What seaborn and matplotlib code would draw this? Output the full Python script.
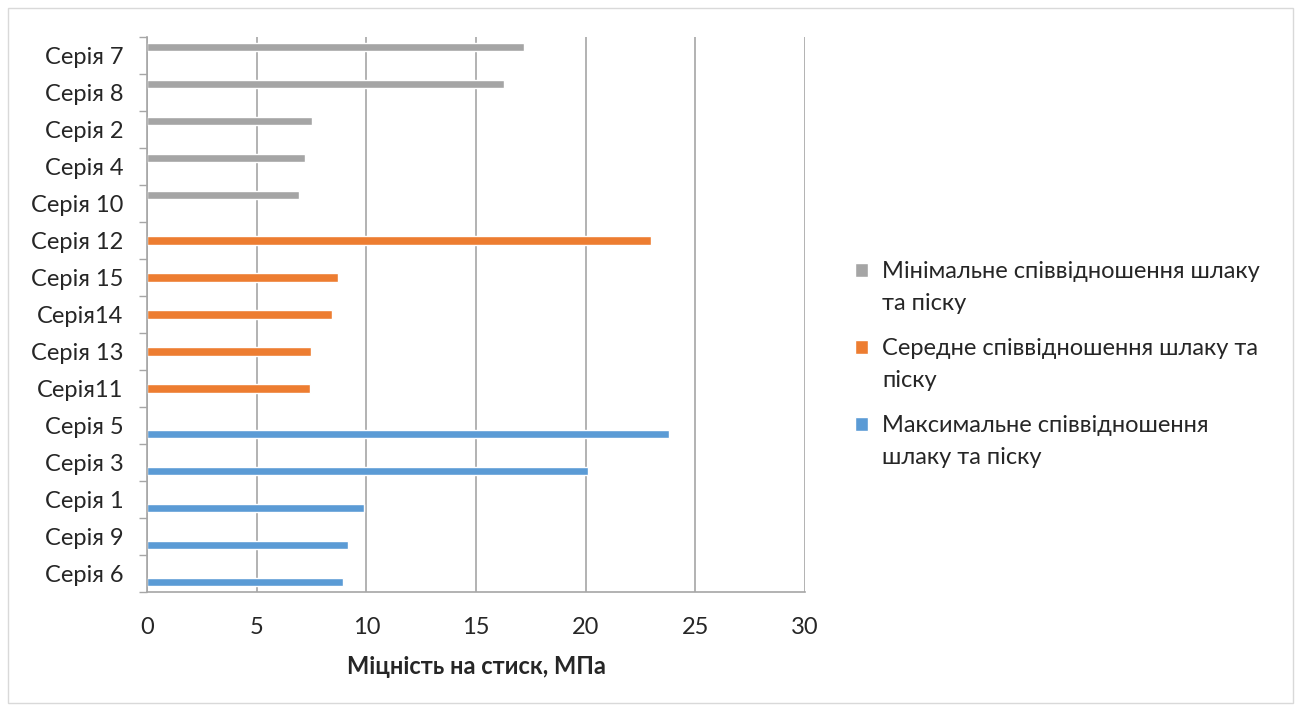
import matplotlib
matplotlib.use("Agg")
import pandas as pd
import seaborn as sns
import matplotlib.pyplot as plt
from matplotlib.patches import Rectangle
from matplotlib.legend_handler import HandlerPatch
from matplotlib.ticker import FixedLocator, NullFormatter

# -- data
categories = ["Серія 7", "Серія 8", "Серія 2", "Серія 4", "Серія 10",
              "Серія 12", "Серія 15", "Серія14", "Серія 13", "Серія11",
              "Серія 5", "Серія 3", "Серія 1", "Серія 9", "Серія 6"]
strength = [17.2, 16.26, 7.51, 7.2, 6.93,
            22.97, 8.73, 8.45, 7.49, 7.43,
            23.78, 20.09, 9.9, 9.17, 8.94]
group_min = "Мінімальне співвідношення шлаку\nта піску"
group_mid = "Середне співвідношення шлаку та\nпіску"
group_max = "Максимальне співвідношення\nшлаку та піску"
groups = [group_min] * 5 + [group_mid] * 5 + [group_max] * 5
group_order = [group_min, group_mid, group_max]
group_colors = ["#A5A5A5", "#ED7D31", "#5B9BD5"]
x_ticks = [0, 5, 10, 15, 20, 25, 30]
x_label = "Міцність на стиск, МПа"

df = pd.DataFrame({"series": categories, "value": strength, "group": groups})

sns.set_style("white")
plt.rcParams["font.family"] = ["Lato", "Noto Sans", "DejaVu Sans"]
fs = 17

fig = plt.figure(figsize=(13.01, 7.11), dpi=100)
ax = fig.add_axes([147 / 1301, 1 - 592 / 711, (805 - 147) / 1301, (592 - 37) / 711])

sns.barplot(data=df, x="value", y="series", hue="group", hue_order=group_order,
            order=categories, palette=group_colors, orient="h", dodge=True,
            width=0.65, saturation=1, errorbar=None, ax=ax)

ax.set_xlim(0, 30)
ax.set_ylim(len(categories) - 0.5, -0.5)
ax.set_xticks(x_ticks)
ax.set_xticklabels([str(t) for t in x_ticks], fontsize=fs)
ax.tick_params(axis="y", which="major", length=0, labelsize=fs, pad=17)
ax.tick_params(axis="x", which="major", length=6, width=1, color="#A6A6A6",
               direction="out", pad=12)
ax.yaxis.set_minor_locator(FixedLocator([i - 0.5 for i in range(len(categories) + 1)]))
ax.yaxis.set_minor_formatter(NullFormatter())
ax.tick_params(axis="y", which="minor", length=6, width=1, color="#A6A6A6",
               direction="out", left=True)

ax.grid(axis="x", color="#A6A6A6", linewidth=1.2)
ax.set_axisbelow(True)
for side in ["top", "right"]:
    ax.spines[side].set_visible(False)
for side in ["left", "bottom"]:
    ax.spines[side].set_color("#A6A6A6")
    ax.spines[side].set_linewidth(1.2)

ax.set_ylabel("")
ax.set_xlabel(x_label, fontsize=fs, fontweight="bold", labelpad=12)


# legend square sits next to the first line of a wrapped label (Excel style)
def top_square(legend, orig_handle, xdescent, ydescent, width, height, fontsize):
    return Rectangle((-xdescent, -ydescent + 0.75 * fontsize), width, height)


handles, labels = ax.get_legend_handles_labels()
ax.get_legend().remove()
leg = ax.legend(handles, labels, loc="center left", bbox_to_anchor=(1.076, 0.41),
                frameon=False, fontsize=fs, handlelength=0.55, handleheight=0.55,
                handletextpad=0.6, labelspacing=1.05, borderpad=0, borderaxespad=0,
                handler_map={type(handles[0]): HandlerPatch(patch_func=top_square)})
for t in leg.get_texts():
    t.set_linespacing(1.6)

# chart-area border like the original
fig.patches.append(Rectangle((8 / 1301, 8 / 711), 1 - 16 / 1301, 1 - 16 / 711,
                             transform=fig.transFigure, fill=False,
                             edgecolor="#D9D9D9", linewidth=1))

fig.savefig("out.png", dpi=100)
